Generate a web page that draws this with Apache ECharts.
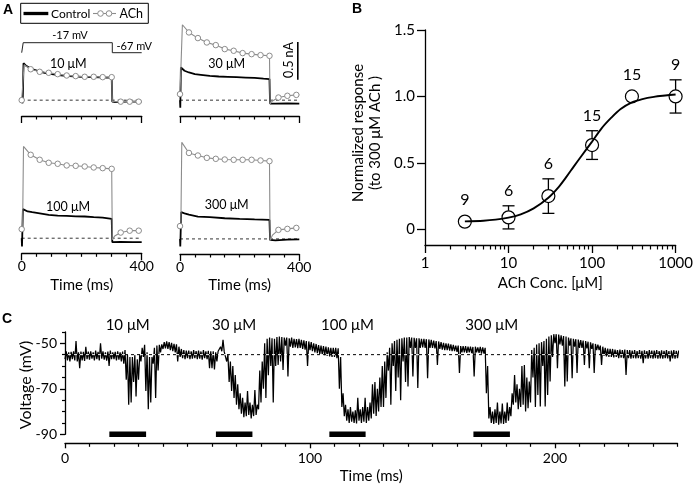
<!DOCTYPE html>
<html><head><meta charset="utf-8">
<script src="https://cdn.jsdelivr.net/npm/echarts@6/dist/echarts.min.js"></script>
<style>html,body{margin:0;padding:0;background:#fff}#c{width:696px;height:485px}</style>
</head><body><div id="c"></div>
<script>
// ===== Panel A data (current, nA; time, ms) =====
const aTickMajor = [0, 400];
const aTickMinor = [50, 100, 150, 200, 250, 300, 350];
const circleTimes = [0, 30, 60, 90, 120, 150, 180, 210, 240, 270, 300, 330, 360, 390];
const aBaseline = 0;
const protocolT = [0, 5, 5, 302, 302, 400];
const protocolV = [-67, -67, -17, -17, -67, -67];

const a1CtrlT = [0,3,4,6,10,15,20,30,45,60,80,100,130,160,200,240,280,300,302,310,350,400];
const a1CtrlV = [0,-0.04,0.1,0.49,0.47,0.455,0.44,0.42,0.40,0.38,0.36,0.345,0.33,0.32,0.31,0.305,0.30,0.30,-0.02,-0.025,-0.02,-0.02];
const a1AchT = [0,4,8,30,60,90,120,150,180,210,240,270,300,302,330,360,390,400];
const a1AchV = [0,0.02,0.47,0.41,0.376,0.363,0.345,0.327,0.319,0.31,0.31,0.305,0.305,-0.02,-0.02,-0.02,-0.02,-0.02];

const a2CtrlT = [0,1,3,8,15,30,50,70,100,130,160,190,220,250,280,300,302,320,360,400];
const a2CtrlV = [0,-0.1,0.434,0.42,0.39,0.367,0.345,0.336,0.322,0.314,0.31,0.305,0.30,0.295,0.285,0.28,-0.044,-0.045,-0.044,-0.045];
const a2AchT = [0,3,8,30,60,90,120,150,180,210,240,270,300,302,310,330,360,390,400];
const a2AchV = [0.08,0.1,1.0,0.898,0.823,0.765,0.73,0.677,0.655,0.624,0.61,0.597,0.588,-0.05,-0.01,0.035,0.058,0.07,0.072];

const a3CtrlT = [0,1,4,10,20,35,60,90,120,150,180,210,240,270,300,302,330,370,400];
const a3CtrlV = [0,-0.11,0.385,0.37,0.355,0.345,0.33,0.31,0.30,0.296,0.29,0.288,0.28,0.274,0.257,-0.053,-0.05,-0.053,-0.052];
const a3AchT = [0,3,6,30,60,90,120,150,180,210,240,270,300,302,310,330,360,390,400];
const a3AchV = [0.12,0.15,1.217,1.106,1.04,1.0,0.987,0.965,0.96,0.951,0.938,0.929,0.92,-0.02,0.03,0.075,0.10,0.10,0.10];

const a4CtrlT = [0,1,4,15,30,60,100,150,200,250,300,302,320,360,400];
const a4CtrlV = [0,-0.1,0.354,0.34,0.323,0.296,0.288,0.274,0.265,0.258,0.252,-0.013,-0.02,-0.01,-0.005];
const a4AchT = [0,3,6,30,60,90,120,150,180,210,240,270,300,302,310,330,360,390,400];
const a4AchV = [0.17,0.2,1.28,1.14,1.106,1.075,1.062,1.053,1.049,1.049,1.049,1.04,1.031,-0.02,0.05,0.12,0.133,0.146,0.148];

const scaleBarT = 395, scaleBarFrom = 0.27, scaleBarLen = 0.5;

// ===== Panel B data =====
const bConc = [3, 10, 30, 100, 300, 1000];
const bMean = [0.058, 0.09, 0.25, 0.634, 1.0, 1.0];
const bErr  = [0.0, 0.087, 0.13, 0.108, 0.0, 0.125];
const bN    = ['9', '6', '6', '15', '15', '9'];
const fitConc = [3,5,7,10,14,20,30,40,50,60,75,100,130,170,220,300,400,550,750,1000];
const fitVal  = [0.06,0.065,0.073,0.088,0.113,0.158,0.238,0.32,0.40,0.47,0.554,0.66,0.76,0.84,0.905,0.955,0.98,0.997,1.007,1.015];
const bYTicks = [0, 0.5, 1.0, 1.5];
const bMinorConc = [2,3,4,5,6,7,8,9,20,30,40,50,60,70,80,90,200,300,400,500,600,700,800,900];

// ===== Panel C data (mV vs ms, upper and lower envelope per ms) =====
const cHi = [
-53.5,-54,-53.8,-53.5,-49,-54,-53.6,-53.8,-51.5,-53.7,
-53.5,-54,-53.2,-53.8,-50,-53.5,-54,-53.6,-53.2,-54,
-53.8,-53.5,-54,-53.6,-53,-55,-56,-56,-55,-57,
-55,-52,-50.7,-54,-56,-56,-52,-51,-50.7,-50.5,
-49.5,-49.2,-49.5,-49.8,-50.2,-50.5,-51.5,-52.5,-53,-53.2,
-53.2,-53.5,-53,-53.4,-53.2,-53.6,-53,-53.5,-53.3,-53.5,
-53.5,-54,-53.5,-51.5,-48.5,-53,-55,-58,-60,-64,
-68,-72,-74,-76,-71,-76,-77,-70.5,-77,-62,
-58,-50,-48,-47.5,-47.8,-48,-47.2,-47,-47.3,-47.5,
-47.5,-47.8,-47.5,-48,-48.2,-48,-48.5,-48.7,-49,-49.2,
-49.5,-50,-50.3,-50.8,-51,-51.2,-51.5,-51.8,-52,-52,
-52,-52.2,-56,-72,-77,-79,-78,-80,-79.5,-74,
-79,-78,-74,-78,-76,-68,-67,-70,-65,-60,
-58,-54,-52,-50,-49,-48.5,-48,-47.8,-47.5,-47.5,
-47.3,-47.5,-47.6,-47.8,-47.8,-48,-48,-48.2,-48.3,-48.5,
-48.8,-49,-49.2,-49.5,-49.8,-50,-50.2,-50.5,-50.7,-51,
-51,-51.2,-51.3,-51.2,-51.5,-51.5,-51.6,-51.5,-51.8,-51.6,
-51.8,-52,-60,-78,-80,-79,-76,-80,-76.5,-80,
-76,-78,-72,-64,-68,-70,-60,-59.5,-65,-66.8,
-53,-52,-50.5,-50,-49.5,-49,-48,-47,-46.5,-46,
-46,-46.2,-46.5,-46.8,-47,-47.5,-47.8,-48,-48.2,-48.4,
-48.6,-48.8,-49,-49.3,-49.6,-50,-50.3,-50.6,-51,-51.5,
-52,-52.3,-52.5,-52.5,-52.8,-53,-52.8,-53,-52.8,-53,
-53,-53.2,-53,-53.4,-53,-53.3,-53.1,-53.4,-53,-53.2,
-53.2,-53,-53.4,-53.1,-53.3,-53,-53.4,-53.2,-53,-53.3,-53.2];
const cLo = [
-57,-57.5,-58,-57,-57.5,-58,-61,-57.5,-57.8,-57,
-57.2,-56.8,-57.5,-57,-57.5,-56.8,-57.2,-57.6,-60,-57,
-57,-57.5,-57.2,-58,-59,-66,-77,-76,-67,-73.4,
-66,-58,-56,-71,-79,-76,-59,-74,-62,-54,
-52.5,-52.2,-52.5,-53,-53.5,-54,-58,-56,-56.5,-57,
-56.5,-57,-56.8,-56.5,-57,-56.8,-57.2,-56.5,-57,-61,
-61,-61.5,-58,-54,-53.5,-53.8,-58,-67,-71,-74,
-77,-79,-81,-82.5,-82,-81.5,-83,-82,-81.5,-79,
-76,-70,-74,-64,-60,-76,-60,-59.5,-58,-61.7,
-51,-64.6,-51.5,-52,-51.8,-52.2,-52,-52.5,-52.8,-60,
-53,-53.5,-54,-54.3,-54.8,-55,-55.2,-55.5,-55.8,-56,
-56,-56.5,-70,-78,-82,-84,-85,-84.5,-85,-85.2,
-84,-85,-84.5,-85,-84,-83,-81,-82,-80,-78,
-78,-74,-62,-77,-60,-71,-65,-75,-58,-67,
-69,-52,-64.6,-52,-69.7,-52,-51.8,-52,-65.4,-52,
-52,-52.3,-59.5,-52.5,-52.8,-53,-53,-53.2,-53.5,-53.5,
-53.8,-63,-54,-54,-54.2,-54,-54.3,-64.6,-54,-54.2,
-54.5,-54.5,-72,-83,-85,-85.5,-85,-85.8,-85.2,-85.5,
-85,-84,-82,-77,-76,-79,-78,-77,-80,-78.5,
-76,-65,-78,-72.7,-77.8,-60,-77.8,-72.7,-66.8,-56,
-50,-61,-50.5,-51,-69,-66.8,-51,-65.4,-51.5,-63,
-52,-52,-59.5,-52.3,-61,-52.5,-63,-53,-53,-59.5,
-55.5,-55.8,-56,-56,-56.2,-56,-56.5,-56.3,-56.5,-63.9,
-56.5,-56.8,-56.5,-56.7,-56.5,-56.8,-58.8,-56.6,-56.8,-56.5,
-56.8,-56.5,-56.8,-56.6,-56.8,-56.5,-56.7,-58,-56.6,-56.8,-56.5];
const cRest = -55;
const cBarStart = [18.1, 61.6, 107.9, 166.7];
const cBarEnd   = [33.1, 76.5, 122.7, 181.6];
const cBarLevel = -90;
const cBarLabels = ['10 \u03bcM', '30 \u03bcM', '100 \u03bcM', '300 \u03bcM'];
const cXMajor = [0, 100, 200];
const cXMinor = [10,20,30,40,50,60,70,80,90,110,120,130,140,150,160,170,180,190,210,220,230,240,250];
const cYMajor = [-50, -70, -90];
const cYMinor = [-45, -55, -60, -65, -75, -80, -85];
const cYMin = -90, cYMax = -45;

// ===== chart =====
const FONT = 'Lato, "Liberation Sans", sans-serif';
const BLK = '#000', GRY = '#8c8c8c';
const txt = (size) => ({ color: BLK, fontFamily: FONT, fontSize: size });

function aXAxes(gi, labels) {
  return [
    { type: 'value', gridIndex: gi, min: 0, max: 400, position: 'bottom',
      axisLine: { onZero: false, lineStyle: { color: BLK, width: 1.3 } },
      axisTick: { customValues: aTickMajor, length: 7, lineStyle: { color: BLK, width: 1.3 } },
      axisLabel: { show: labels, customValues: aTickMajor, margin: 6, ...txt(14) },
      splitLine: { show: false },
      name: labels ? 'Time (ms)' : '', nameLocation: 'middle', nameGap: 24, nameTextStyle: txt(15) },
    { type: 'value', gridIndex: gi, min: 0, max: 400, position: 'bottom',
      axisLine: { show: false, onZero: false },
      axisTick: { customValues: aTickMinor, length: 3.5, lineStyle: { color: BLK, width: 1.2 } },
      axisLabel: { show: false }, splitLine: { show: false } }
  ];
}
function aYAxis(gi, mn, mx) {
  return { type: 'value', gridIndex: gi, min: mn, max: mx, show: false };
}
function aSeries(xi, yi, ctrlT, ctrlV, achT, achV) {
  return [
    { type: 'line', xAxisIndex: xi, yAxisIndex: yi, data: [[0, aBaseline], [400, aBaseline]],
      symbol: 'none', silent: true, lineStyle: { color: BLK, width: 0.8, type: [3, 3] } },
    { type: 'line', xAxisIndex: xi, yAxisIndex: yi, data: ctrlT.map((t, i) => [t, ctrlV[i]]),
      symbol: 'none', clip: false, lineStyle: { color: BLK, width: 1.8 } },
    { type: 'line', xAxisIndex: xi, yAxisIndex: yi, clip: false,
      data: achT.map((t, i) => ({ value: [t, achV[i]], symbol: circleTimes.includes(t) ? 'circle' : 'none' })),
      showSymbol: true, symbolSize: 5.5,
      itemStyle: { color: '#fff', borderColor: GRY, borderWidth: 1 },
      lineStyle: { color: GRY, width: 1.1 } }
  ];
}

const cTrace = [];
cHi.forEach((h, i) => { cTrace.push([i, cLo[i]]); cTrace.push([i + 0.5, h]); });

const option = {
  animation: false,
  backgroundColor: '#fff',
  grid: [
    { left: 21.7, top: 17.2, width: 120, height: 98.8 },
    { left: 180, top: 17.2, width: 119.3, height: 98.8 },
    { left: 21.7, top: 136.4, width: 120, height: 116.9 },
    { left: 180, top: 137.1, width: 119.3, height: 116.9 },
    { left: 21.7, top: 39.7, width: 120, height: 18 },
    { left: 425, top: 30, width: 253.3, height: 215 },
    { left: 65, top: 331.9, width: 612.5, height: 102.4 }
  ],
  xAxis: [
    ...aXAxes(0, false), ...aXAxes(1, false), ...aXAxes(2, true), ...aXAxes(3, true),
    { type: 'value', gridIndex: 4, min: 0, max: 400, show: false },
    { type: 'log', logBase: 10, gridIndex: 5, min: 1, max: 1000, position: 'bottom',
      axisLine: { onZero: false, lineStyle: { color: BLK, width: 1.3 } },
      axisTick: { length: 8, lineStyle: { color: BLK, width: 1.3 } },
      axisLabel: { margin: 11, formatter: v => String(Math.round(v)), ...txt(15) },
      splitLine: { show: false }, minorTick: { show: false },
      name: 'ACh Conc. [\u03bcM]', nameLocation: 'middle', nameGap: 31, nameTextStyle: txt(15) },
    { type: 'value', gridIndex: 5, min: 0, max: 3, position: 'bottom',
      axisLine: { show: false, onZero: false },
      axisTick: { customValues: bMinorConc.map(Math.log10), length: 4.5, lineStyle: { color: BLK, width: 1.2 } },
      axisLabel: { show: false }, splitLine: { show: false } },
    { type: 'value', gridIndex: 6, min: 0, max: 250, position: 'bottom', offset: 9,
      axisLine: { onZero: false, lineStyle: { color: BLK, width: 1.3 } },
      axisTick: { customValues: cXMajor, length: 5, lineStyle: { color: BLK, width: 1.3 } },
      axisLabel: { customValues: cXMajor, margin: 8, ...txt(14) },
      splitLine: { show: false },
      name: 'Time (ms)', nameLocation: 'middle', nameGap: 25, nameTextStyle: txt(15) },
    { type: 'value', gridIndex: 6, min: 0, max: 250, position: 'bottom', offset: 9,
      axisLine: { show: false, onZero: false },
      axisTick: { customValues: cXMinor, length: 3.5, lineStyle: { color: BLK, width: 1.2 } },
      axisLabel: { show: false }, splitLine: { show: false } }
  ],
  yAxis: [
    aYAxis(0, -0.21, 1.1), aYAxis(1, -0.21, 1.1), aYAxis(2, -0.2, 1.35), aYAxis(3, -0.2, 1.35),
    { type: 'value', gridIndex: 4, min: -92, max: -2, show: false },
    { type: 'value', gridIndex: 5, min: -0.118, max: 1.5,
      axisLine: { show: true, onZero: false, lineStyle: { color: BLK, width: 1.3 } },
      axisTick: { show: true, customValues: bYTicks, length: 8, lineStyle: { color: BLK, width: 1.3 } },
      axisLabel: { customValues: bYTicks, margin: 10, formatter: v => v === 0 ? '0' : v.toFixed(1), ...txt(15) },
      splitLine: { show: false } },
    { type: 'value', gridIndex: 6, min: cYMin, max: cYMax,
      axisLine: { show: true, onZero: false, lineStyle: { color: BLK, width: 1.3 } },
      axisTick: { show: true, customValues: cYMajor, length: 5, lineStyle: { color: BLK, width: 1.3 } },
      axisLabel: { customValues: cYMajor, margin: 8, ...txt(14) },
      splitLine: { show: false } },
    { type: 'value', gridIndex: 6, min: cYMin, max: cYMax, position: 'left',
      axisLine: { show: false, onZero: false },
      axisTick: { show: true, customValues: cYMinor, length: 3, lineStyle: { color: BLK, width: 1.2 } },
      axisLabel: { show: false }, splitLine: { show: false } }
  ],
  series: [
    // Panel A
    { type: 'line', xAxisIndex: 8, yAxisIndex: 4, data: protocolT.map((t, i) => [t, protocolV[i]]),
      symbol: 'none', clip: false, lineStyle: { color: '#222', width: 1 } },
    ...aSeries(0, 0, a1CtrlT, a1CtrlV, a1AchT, a1AchV),
    ...aSeries(2, 1, a2CtrlT, a2CtrlV, a2AchT, a2AchV),
    ...aSeries(4, 2, a3CtrlT, a3CtrlV, a3AchT, a3AchV),
    ...aSeries(6, 3, a4CtrlT, a4CtrlV, a4AchT, a4AchV),
    { type: 'line', xAxisIndex: 2, yAxisIndex: 1, clip: false, symbol: 'none',
      data: [[scaleBarT, scaleBarFrom], [scaleBarT, scaleBarFrom + scaleBarLen]],
      lineStyle: { color: BLK, width: 1.6 } },
    // Panel B
    { type: 'line', xAxisIndex: 9, yAxisIndex: 5, data: fitConc.map((c, i) => [c, fitVal[i]]),
      smooth: 0.3, symbol: 'none', lineStyle: { color: BLK, width: 1.9 } },
    { type: 'custom', xAxisIndex: 9, yAxisIndex: 5, clip: false,
      data: bConc.map((c, i) => [c, bMean[i], bErr[i]]),
      encode: { x: 0, y: 1 },
      renderItem: (params, api) => {
        const c = api.value(0), m = api.value(1), e = api.value(2);
        const p = api.coord([c, m]);
        const ch = [];
        let topY = p[1] - 6.5;
        if (e > 0) {
          const t = api.coord([c, m + e]), b = api.coord([c, m - e]);
          const st = { stroke: BLK, lineWidth: 1.3 };
          ch.push({ type: 'line', shape: { x1: p[0], y1: t[1], x2: p[0], y2: b[1] }, style: st });
          ch.push({ type: 'line', shape: { x1: p[0] - 6, y1: t[1], x2: p[0] + 6, y2: t[1] }, style: st });
          ch.push({ type: 'line', shape: { x1: p[0] - 6, y1: b[1], x2: p[0] + 6, y2: b[1] }, style: st });
          topY = t[1];
        }
        ch.push({ type: 'text', x: p[0], y: topY - 15,
          style: { text: bN[params.dataIndex], align: 'center', verticalAlign: 'middle', font: '16px ' + FONT, fill: BLK } });
        return { type: 'group', children: ch };
      } },
    { type: 'scatter', xAxisIndex: 9, yAxisIndex: 5, data: bConc.map((c, i) => [c, bMean[i]]),
      symbolSize: 13, itemStyle: { color: '#fff', borderColor: BLK, borderWidth: 1.2, opacity: 1 } },
    // Panel C
    { type: 'line', xAxisIndex: 11, yAxisIndex: 6, data: cTrace, symbol: 'none', clip: false,
      lineStyle: { color: BLK, width: 1.25 } },
    { type: 'line', xAxisIndex: 11, yAxisIndex: 6, data: [[0, cRest], [250, cRest]], symbol: 'none', silent: true,
      lineStyle: { color: '#fff', width: 1, type: [3, 3], dashOffset: 3 } },
    { type: 'line', xAxisIndex: 11, yAxisIndex: 6, data: [[0, cRest], [250, cRest]], symbol: 'none', silent: true,
      lineStyle: { color: BLK, width: 1, type: [3, 3] } },
    { type: 'custom', xAxisIndex: 11, yAxisIndex: 6, clip: false,
      data: cBarStart.map((s, i) => [s, cBarEnd[i], cBarLevel]),
      encode: { x: [0, 1], y: 2 },
      renderItem: (params, api) => {
        const s = api.coord([api.value(0), api.value(2)]);
        const e = api.coord([api.value(1), api.value(2)]);
        const top = api.coord([api.value(0), cYMax]);
        return { type: 'group', children: [
          { type: 'rect', shape: { x: s[0], y: s[1] - 2.8, width: e[0] - s[0], height: 5.6 }, style: { fill: BLK } },
          { type: 'text', x: (s[0] + e[0]) / 2, y: top[1] - 7,
            style: { text: cBarLabels[params.dataIndex], align: 'center', verticalAlign: 'middle', font: '15px ' + FONT, fill: BLK } }
        ] };
      } }
  ],
  graphic: [
    { type: 'text', x: 3, y: 10, style: { text: 'A', font: 'bold 14px "Liberation Sans"', fill: BLK, verticalAlign: 'middle' } },
    { type: 'text', x: 352, y: 9, style: { text: 'B', font: 'bold 14px "Liberation Sans"', fill: BLK, verticalAlign: 'middle' } },
    { type: 'text', x: 2, y: 319, style: { text: 'C', font: 'bold 14px "Liberation Sans"', fill: BLK, verticalAlign: 'middle' } },
    // legend
    { type: 'rect', shape: { x: 20.7, y: 3.3, width: 127.6, height: 20 }, style: { fill: 'none', stroke: BLK, lineWidth: 1 } },
    { type: 'line', shape: { x1: 23.5, y1: 13.5, x2: 48.3, y2: 13.5 }, style: { stroke: BLK, lineWidth: 3.3 } },
    { type: 'text', x: 51, y: 13.8, style: { text: 'Control', font: '12px ' + FONT, fill: BLK, verticalAlign: 'middle' } },
    { type: 'line', shape: { x1: 93, y1: 13.5, x2: 116, y2: 13.5 }, style: { stroke: GRY, lineWidth: 1.1 } },
    { type: 'circle', shape: { cx: 100.5, cy: 13.5, r: 2.8 }, style: { fill: '#fff', stroke: GRY, lineWidth: 1 } },
    { type: 'circle', shape: { cx: 109, cy: 13.5, r: 2.8 }, style: { fill: '#fff', stroke: GRY, lineWidth: 1 } },
    { type: 'text', x: 119.5, y: 13.8, style: { text: 'ACh', font: '12.5px ' + FONT, fill: BLK, verticalAlign: 'middle' } },
    // panel A annotations
    { type: 'text', x: 70, y: 35, style: { text: '-17 mV', font: '11px ' + FONT, fill: BLK, align: 'center', verticalAlign: 'middle' } },
    { type: 'text', x: 116.5, y: 46.5, style: { text: '-67 mV', font: '11px ' + FONT, fill: BLK, verticalAlign: 'middle' } },
    { type: 'text', x: 68.3, y: 64, style: { text: '10 \u03bcM', font: '12.5px ' + FONT, fill: BLK, align: 'center', verticalAlign: 'middle' } },
    { type: 'text', x: 226.7, y: 64.3, style: { text: '30 \u03bcM', font: '12.5px ' + FONT, fill: BLK, align: 'center', verticalAlign: 'middle' } },
    { type: 'text', x: 68, y: 206.7, style: { text: '100 \u03bcM', font: '12.5px ' + FONT, fill: BLK, align: 'center', verticalAlign: 'middle' } },
    { type: 'text', x: 226.7, y: 205, style: { text: '300 \u03bcM', font: '12.5px ' + FONT, fill: BLK, align: 'center', verticalAlign: 'middle' } },
    { type: 'text', x: 288.5, y: 60, rotation: Math.PI / 2, style: { text: '0.5 nA', font: '12.5px ' + FONT, fill: BLK, align: 'center', verticalAlign: 'middle' } },
    // axis titles (rotated)
    { type: 'text', x: 367, y: 133, rotation: Math.PI / 2, style: { text: 'Normalized response\n(to 300 \u03bcM ACh )', font: '15px ' + FONT, fill: BLK, align: 'center', verticalAlign: 'middle', lineHeight: 17 } },
    { type: 'text', x: 26, y: 385, rotation: Math.PI / 2, style: { text: 'Voltage (mV)', font: '16px ' + FONT, fill: BLK, align: 'center', verticalAlign: 'middle' } }
  ]
};
const chart = echarts.init(document.getElementById('c'), null, { renderer: 'canvas', width: 696, height: 485 });
chart.setOption(option);
</script></body></html>
